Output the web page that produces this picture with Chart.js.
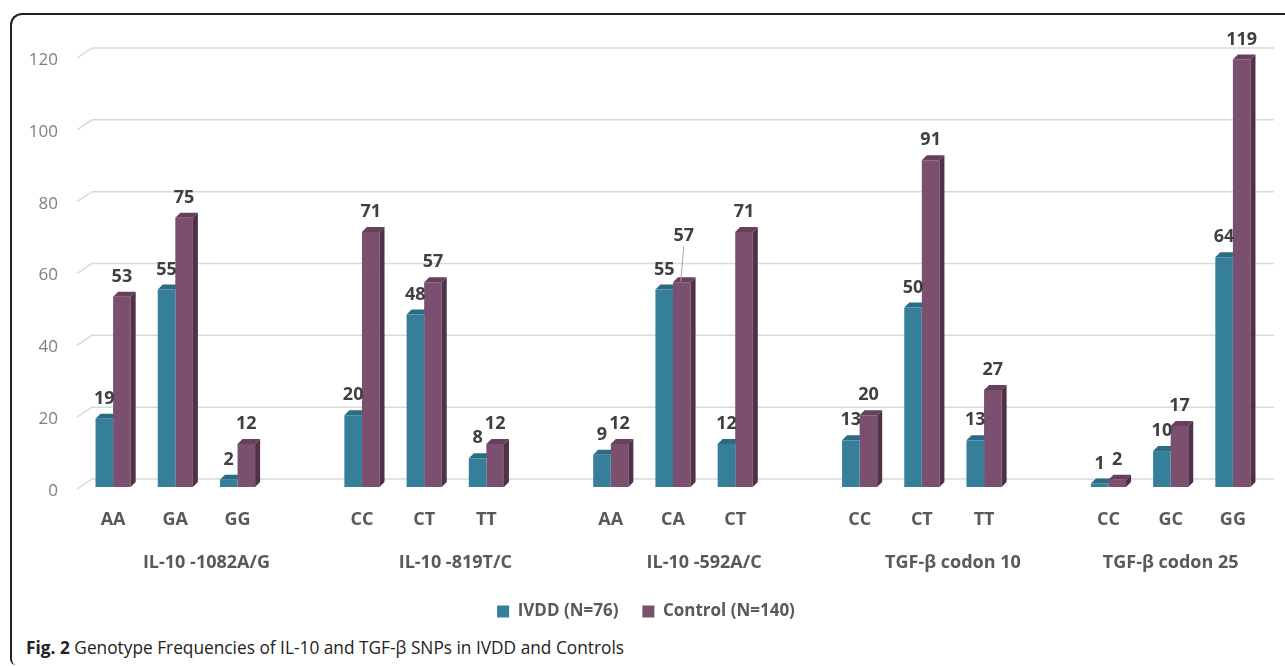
<!DOCTYPE html>
<html>
<head>
<meta charset="utf-8">
<script src="https://cdn.jsdelivr.net/npm/chart.js@4/dist/chart.umd.min.js"></script>
<style>
  body { margin: 0; background: #fff; width: 1285px; height: 666px; overflow: hidden; position: relative; font-family: "Open Sans", sans-serif; }
  #frame { position: absolute; left: 10px; top: 13px; width: 1290px; height: 650px; border-top: 2px solid #222; border-left: 2px solid #222; border-top-left-radius: 12px; border-bottom-left-radius: 6px; }
  #wrap { position: absolute; left: 0; top: 0; width: 1285px; height: 630px; }
  #caption { position: absolute; left: 26px; top: 636px; font-size: 17.3px; color: #222; white-space: nowrap; }
</style>
</head>
<body>
<div id="frame"></div>
<div id="wrap"><canvas id="genotypes"></canvas></div>
<div id="caption"><b>Fig. 2</b> Genotype Frequencies of IL-10 and TGF-β SNPs in IVDD and Controls</div>
<script>
// genotype counts
var groups = ['IL-10 -1082A/G', 'IL-10 -819T/C', 'IL-10 -592A/C', 'TGF-β codon 10', 'TGF-β codon 25'];
var genotypes = [['AA', 'GA', 'GG'], ['CC', 'CT', 'TT'], ['AA', 'CA', 'CT'], ['CC', 'CT', 'TT'], ['CC', 'GC', 'GG']];
var ivdd = [[19, 55, 2], [20, 48, 8], [9, 55, 12], [13, 50, 13], [1, 10, 64]];
var control = [[53, 75, 12], [71, 57, 12], [12, 57, 71], [20, 91, 27], [2, 17, 119]];
var yTicks = [0, 20, 40, 60, 80, 100, 120];

// flatten, leaving one empty slot between groups
var labels = [], ivddData = [], controlData = [], groupCenters = [];
groups.forEach(function(g, i) {
    var start = labels.length;
    genotypes[i].forEach(function(gt, j) {
        labels.push(gt);
        ivddData.push(ivdd[i][j]);
        controlData.push(control[i][j]);
    });
    if (i < groups.length - 1) {
        labels.push('');
        ivddData.push(null);
        controlData.push(null);
    }
    groupCenters.push(start + (labels.length - 1 - start) / 2);
});

var DEPTH = 5;
var faces = {
    0: { top: '#2b6b84', side: '#265d72' },
    1: { top: '#66405c', side: '#4f3247' }
};

function poly(ctx, pts, color) {
    ctx.beginPath();
    ctx.moveTo(pts[0][0], pts[0][1]);
    for (var i = 1; i < pts.length; i++) ctx.lineTo(pts[i][0], pts[i][1]);
    ctx.closePath();
    ctx.fillStyle = color;
    ctx.fill();
}

function drawTops(chart, dsIndex, withSide) {
    var ctx = chart.ctx;
    var meta = chart.getDatasetMeta(dsIndex);
    meta.data.forEach(function(bar, i) {
        if (chart.data.datasets[dsIndex].data[i] == null) return;
        var x0 = bar.x - bar.width / 2, x1 = bar.x + bar.width / 2, y = bar.y, b = bar.base;
        poly(ctx, [[x0, y], [x0 + DEPTH, y - DEPTH], [x1 + DEPTH, y - DEPTH], [x1, y]], faces[dsIndex].top);
        if (withSide) {
            poly(ctx, [[x1, y], [x1 + DEPTH, y - DEPTH], [x1 + DEPTH, b - DEPTH], [x1, b]], faces[dsIndex].side);
        }
    });
}

var bars3d = {
    id: 'bars3d',
    beforeDatasetsDraw: function(chart) {
        var ctx = chart.ctx, area = chart.chartArea, y = chart.scales.y;
        ctx.save();
        ctx.strokeStyle = '#d9d9d9';
        ctx.lineWidth = 1.5;
        yTicks.forEach(function(v) {
            var py = y.getPixelForValue(v);
            ctx.beginPath();
            ctx.moveTo(area.left - 5, py + 2);
            ctx.lineTo(area.left + 10, py - 8);
            ctx.lineTo(area.right + 10, py - 8);
            ctx.stroke();
        });
        drawTops(chart, 0, false);
        ctx.restore();
    },
    afterDatasetsDraw: function(chart) {
        var ctx = chart.ctx;
        ctx.save();
        drawTops(chart, 1, true);

        // value labels
        ctx.font = 'bold 18px "Open Sans"';
        ctx.fillStyle = '#404040';
        ctx.textAlign = 'center';
        ctx.textBaseline = 'middle';
        var m0 = chart.getDatasetMeta(0), m1 = chart.getDatasetMeta(1);
        labels.forEach(function(l, i) {
            if (ivddData[i] == null) return;
            var a = m0.data[i], b = m1.data[i];
            var ta = String(ivddData[i]), tb = String(controlData[i]);
            var ya = a.y - 20, yb = b.y - 20;
            var wa = ctx.measureText(ta).width, wb = ctx.measureText(tb).width;
            ctx.fillText(ta, a.x, ya);
            var overlapX = (a.x + wa / 2) > (b.x - wb / 2);
            if (overlapX && Math.abs(ya - yb) < 16) {
                var ny = Math.min(ya, yb) - 26;
                ctx.fillText(tb, b.x + 2, ny);
                ctx.strokeStyle = '#a6a6a6';
                ctx.lineWidth = 1;
                ctx.beginPath();
                ctx.moveTo(b.x + 2, ny + 10);
                ctx.lineTo(b.x - 1, b.y - 1);
                ctx.stroke();
            } else {
                ctx.fillText(tb, b.x, yb);
            }
        });
        ctx.restore();
    }
};

var ctx = document.getElementById('genotypes').getContext('2d');
new Chart(ctx, {
    type: 'bar',
    data: {
        labels: labels,
        datasets: [{
            label: 'IVDD (N=76)',
            data: ivddData,
            backgroundColor: '#367f9b',
            categoryPercentage: 0.565,
            barPercentage: 1
        }, {
            label: 'Control (N=140)',
            data: controlData,
            backgroundColor: '#7b506f',
            categoryPercentage: 0.565,
            barPercentage: 1
        }]
    },
    options: {
        responsive: true,
        maintainAspectRatio: false,
        animation: false,
        layout: { padding: { left: 28, right: 21, top: 56, bottom: 0 } },
        plugins: {
            tooltip: { enabled: false },
            legend: {
                position: 'bottom',
                labels: {
                    boxWidth: 12,
                    boxHeight: 12,
                    padding: 24,
                    color: '#595959',
                    font: { family: 'Open Sans', size: 17, weight: 'bold' }
                }
            }
        },
        scales: {
            y: {
                min: 0,
                max: 120,
                afterFit: function(s) { s.width = 54; },
                ticks: {
                    stepSize: 20,
                    padding: 24,
                    labelOffset: 4,
                    color: '#7f7f7f',
                    font: { family: 'Open Sans', size: 17 }
                },
                grid: { display: false, drawTicks: false },
                border: { display: false }
            },
            x: {
                afterFit: function(s) { s.height = 44; },
                ticks: {
                    padding: 22,
                    autoSkip: false,
                    maxRotation: 0,
                    color: '#595959',
                    font: { family: 'Open Sans', size: 18, weight: 'bold' }
                },
                grid: { display: false, drawTicks: false },
                border: { display: false }
            },
            groups: {
                type: 'linear',
                position: 'bottom',
                offset: false,
                min: -0.5,
                max: labels.length - 0.5,
                afterBuildTicks: function(s) {
                    s.ticks = groupCenters.map(function(v) { return { value: v }; });
                },
                afterFit: function(s) { s.height = 48; },
                ticks: {
                    padding: 21,
                    autoSkip: false,
                    maxRotation: 0,
                    color: '#595959',
                    font: { family: 'Open Sans', size: 18, weight: 'bold' },
                    callback: function(v, i) { return groups[i]; }
                },
                grid: { display: false, offset: false, drawTicks: false },
                border: { display: false }
            }
        }
    },
    plugins: [bars3d]
});
</script>
</body>
</html>
